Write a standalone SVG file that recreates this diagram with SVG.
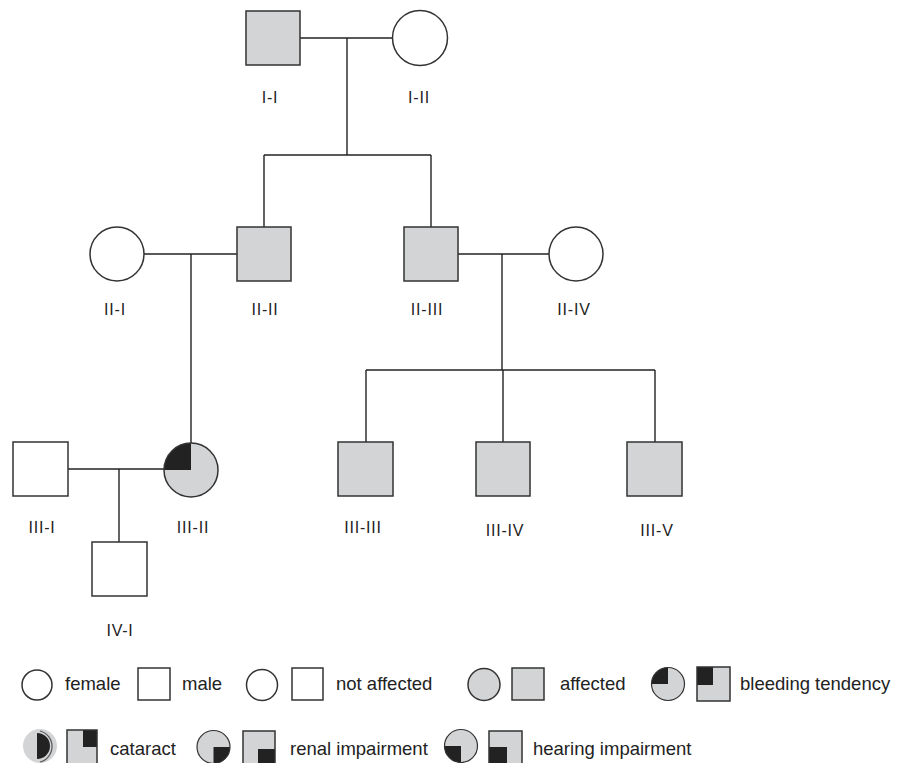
<svg xmlns="http://www.w3.org/2000/svg" width="909" height="763" viewBox="0 0 909 763">
<style>
.n{stroke:#333;stroke-width:1.5}
.u{fill:#fff}
.a{fill:#d3d4d6}
.k{fill:#222;stroke:none}
.c line{stroke:#222;stroke-width:1.4}
.lb{font-family:"Liberation Sans",Arial,sans-serif;font-size:16px;letter-spacing:0.8px;fill:#222;text-anchor:middle}
.lg{font-family:"Liberation Sans",Arial,sans-serif;font-size:18.5px;fill:#222}
</style>
<rect width="909" height="763" fill="#fff"/>
<g class="c" id="connectors">
<line x1="300" y1="38" x2="393" y2="38"/>
<line x1="347" y1="38" x2="347" y2="155"/>
<line x1="264" y1="155" x2="431" y2="155"/>
<line x1="264" y1="155" x2="264" y2="227"/>
<line x1="431" y1="155" x2="431" y2="227"/>
<line x1="144" y1="254" x2="237" y2="254"/>
<line x1="191" y1="254" x2="191" y2="443"/>
<line x1="458" y1="254" x2="549" y2="254"/>
<line x1="502" y1="254" x2="502" y2="370"/>
<line x1="366" y1="370" x2="655" y2="370"/>
<line x1="366" y1="370" x2="366" y2="442"/>
<line x1="503" y1="370" x2="503" y2="442"/>
<line x1="655" y1="370" x2="655" y2="442"/>
<line x1="68" y1="469" x2="164" y2="469"/>
<line x1="119" y1="469" x2="119" y2="542"/>
</g>
<g id="I-I"><rect class="n a" x="246" y="11" width="54" height="54"/><text class="lb" x="270" y="103">I-I</text></g>
<g id="I-II"><circle class="n u" cx="420" cy="38" r="27.5"/><text class="lb" x="419" y="103">I-II</text></g>
<g id="II-I"><circle class="n u" cx="117" cy="254" r="27"/><text class="lb" x="115" y="315">II-I</text></g>
<g id="II-II"><rect class="n a" x="237" y="227" width="54" height="54"/><text class="lb" x="265" y="315">II-II</text></g>
<g id="II-III"><rect class="n a" x="404" y="227" width="54" height="54"/><text class="lb" x="427" y="315">II-III</text></g>
<g id="II-IV"><circle class="n u" cx="576" cy="254" r="27"/><text class="lb" x="574" y="315">II-IV</text></g>
<g id="III-I"><rect class="n u" x="13" y="442" width="55" height="54"/><text class="lb" x="42" y="533">III-I</text></g>
<g id="III-II"><circle class="a" cx="191" cy="470" r="27"/><path class="k" d="M191,470 L164,470 A27,27 0 0 1 191,443 Z"/><circle cx="191" cy="470" r="27" fill="none" stroke="#333" stroke-width="1.5"/><text class="lb" x="193" y="533">III-II</text></g>
<g id="III-III"><rect class="n a" x="338" y="442" width="55" height="54"/><text class="lb" x="363" y="533">III-III</text></g>
<g id="III-IV"><rect class="n a" x="476" y="442" width="54" height="54"/><text class="lb" x="505" y="536">III-IV</text></g>
<g id="III-V"><rect class="n a" x="627" y="442" width="55" height="54"/><text class="lb" x="657" y="536">III-V</text></g>
<g id="IV-I"><rect class="n u" x="92" y="542" width="55" height="54"/><text class="lb" x="120" y="636">IV-I</text></g>
<g id="legend">
<circle class="n u" cx="37" cy="685" r="15"/>
<text class="lg" x="65" y="690">female</text>
<rect class="n u" x="138" y="668" width="32" height="32"/>
<text class="lg" x="182" y="690">male</text>
<circle class="n u" cx="262" cy="685" r="15.5"/>
<rect class="n u" x="292" y="668" width="31" height="32"/>
<text class="lg" x="336" y="690">not affected</text>
<circle class="n a" cx="484" cy="684.5" r="16"/>
<rect class="n a" x="512" y="668" width="32" height="32"/>
<text class="lg" x="560" y="690">affected</text>
<circle class="a" cx="668" cy="684" r="16.5"/>
<path class="k" d="M668,684 L651.5,684 A16.5,16.5 0 0 1 668,667.5 Z"/>
<circle cx="668" cy="684" r="16.5" fill="none" stroke="#333" stroke-width="1.2"/>
<rect class="a" x="697" y="667" width="33" height="34"/>
<rect class="k" x="697" y="667" width="16" height="18"/>
<rect x="697" y="667" width="33" height="34" fill="none" stroke="#333" stroke-width="1.5"/>
<text class="lg" x="740" y="690">bleeding tendency</text>
<circle class="a" cx="40" cy="746" r="17"/>
<path class="k" d="M37,733 A13,13 0 0 1 37,759 Z"/>
<path d="M40,731 A16,16 0 0 1 40,762" fill="none" stroke="#555" stroke-width="1.2"/>
<rect class="a" x="67" y="730" width="30" height="34"/>
<rect class="k" x="83" y="730" width="14" height="17"/>
<rect x="67" y="730" width="30" height="34" fill="none" stroke="#333" stroke-width="1.5"/>
<text class="lg" x="110" y="755">cataract</text>
<circle class="a" cx="213.5" cy="747" r="16.5"/>
<path class="k" d="M213.5,747 L230,747 A16.5,16.5 0 0 1 213.5,763.5 Z"/>
<circle cx="213.5" cy="747" r="16.5" fill="none" stroke="#333" stroke-width="1.2"/>
<rect class="a" x="243" y="731" width="32" height="33"/>
<rect class="k" x="258" y="749" width="17" height="15"/>
<rect x="243" y="731" width="32" height="33" fill="none" stroke="#333" stroke-width="1.5"/>
<text class="lg" x="290" y="755">renal impairment</text>
<circle class="a" cx="461" cy="746" r="16.5"/>
<path class="k" d="M461,746 L461,762.5 A16.5,16.5 0 0 1 444.5,746 Z"/>
<circle cx="461" cy="746" r="16.5" fill="none" stroke="#333" stroke-width="1.2"/>
<rect class="a" x="489" y="731" width="33" height="33"/>
<rect class="k" x="489" y="747" width="18" height="17"/>
<rect x="489" y="731" width="33" height="33" fill="none" stroke="#333" stroke-width="1.5"/>
<text class="lg" x="533" y="755">hearing impairment</text>
</g>
</svg>
